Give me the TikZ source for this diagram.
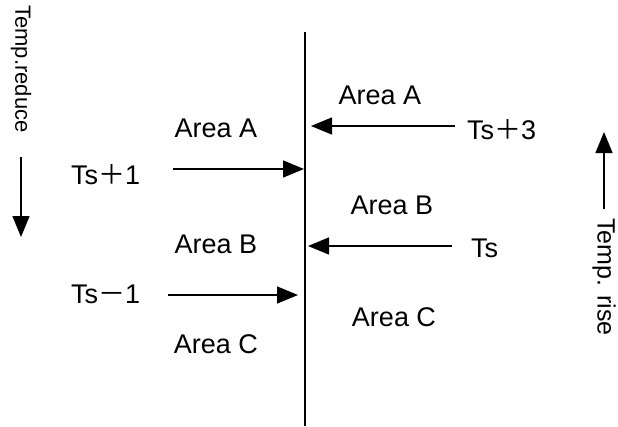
\documentclass[tikz,border=0pt]{standalone}
\usepackage{fontspec}
\setmainfont{Liberation Sans}
\newfontfamily\cjk{Noto Sans CJK SC}
\usetikzlibrary{arrows.meta}
\begin{document}
\begin{tikzpicture}[x=1pt,y=-1pt,
  lbl/.style={inner sep=0pt,font=\fontsize{27}{31}\selectfont},
  vlbl/.style={inner sep=0pt,rotate=-90,font=\fontsize{22}{26}\selectfont},
  arr/.style={line width=1.4pt,-{Triangle[length=21pt,width=17pt]}}]
\useasboundingbox (0,0) rectangle (618,426);
% main vertical line
\coordinate (vt) at (305,32);
\coordinate (vb) at (305,426);
\draw[line width=1.8pt] (vt) -- (vb);
% left side labels
\node[lbl,anchor=base] (la) at (216,137) {Area A};
\node[lbl,anchor=base west] (tp1) at (71,184) {Ts{\cjk ＋}1};
\node[lbl,anchor=base] (lb) at (216,253) {Area B};
\node[lbl,anchor=base west] (tm1) at (71,303) {Ts{\cjk －}1};
\node[lbl,anchor=base] (lc) at (216,353) {Area C};
% right side labels
\node[lbl,anchor=base] (ra) at (380,104) {Area A};
\node[lbl,anchor=base west] (tp3) at (467,139) {Ts{\cjk ＋}3};
\node[lbl,anchor=base] (rb) at (392,214) {Area B};
\node[lbl,anchor=base west] (ts) at (471,257) {Ts};
\node[lbl,anchor=base] (rc) at (394,326) {Area C};
% horizontal arrows
\coordinate (a1s) at (173,169); \coordinate (a1e) at (304,169);
\coordinate (a2s) at (168,295); \coordinate (a2e) at (298,295);
\coordinate (a3s) at (455,126); \coordinate (a3e) at (311,126);
\coordinate (a4s) at (452,246); \coordinate (a4e) at (308,246);
\draw[arr] (a1s) -- (a1e);
\draw[arr] (a2s) -- (a2e);
\draw[arr] (a3s) -- (a3e);
\draw[arr] (a4s) -- (a4e);
% vertical side labels and arrows
\node[vlbl] (tred) at (21,69) {Temp.reduce};
\coordinate (d1) at (21,157); \coordinate (d2) at (21,237);
\draw[arr] (d1) -- (d2);
\node[vlbl,font=\fontsize{25}{29}\selectfont] (trise) at (604,277) {Temp. rise};
\coordinate (u1) at (604,209); \coordinate (u2) at (604,132);
\draw[arr] (u1) -- (u2);
\end{tikzpicture}
\end{document}
